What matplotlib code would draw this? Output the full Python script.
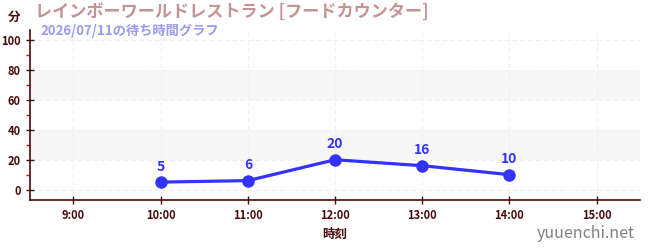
import matplotlib.pyplot as plt
from matplotlib.ticker import MultipleLocator

plt.rcParams['font.family'] = ['Noto Sans CJK JP', 'DejaVu Sans']

hours = [10, 11, 12, 13, 14]
waits = [5, 6, 20, 16, 10]
tick_hours = [9, 10, 11, 12, 13, 14, 15]
tick_labels = ["9:00", "10:00", "11:00", "12:00", "13:00", "14:00", "15:00"]

title = "レインボーワールドレストラン [フードカウンター]"
subtitle = "2026/07/11の待ち時間グラフ"

dark = "#4a0a0a"
blue = "#3333ff"

fig = plt.figure(figsize=(6.5, 2.5), dpi=100)
ax = fig.add_axes([0.046, 0.2, 0.939, 0.68])

ax.set_xlim(8.5, 15.5)
ax.set_ylim(-7, 107)

# alternating bands
for lo, hi in [(20, 40), (60, 80)]:
    ax.axhspan(lo, hi, color="#f7f7f7", zorder=0, lw=0)

ax.set_xticks(tick_hours)
ax.set_xticklabels(tick_labels)
ax.set_yticks(range(0, 101, 20))
ax.yaxis.set_minor_locator(MultipleLocator(10))
ax.grid(True, which="major", color="#f0f0f0", linestyle=(0, (4, 3)), lw=0.8)

for s in ["top", "right"]:
    ax.spines[s].set_visible(False)
for s in ["left", "bottom"]:
    ax.spines[s].set_color(dark)
    ax.spines[s].set_linewidth(1.2)

ax.tick_params(axis="both", which="major", colors=dark, labelsize=8, length=4, width=1)
ax.tick_params(axis="y", which="minor", colors="#dd0000", length=3, width=1)
ax.tick_params(axis="x", which="major", direction="inout", length=6)
ax.tick_params(axis="y", which="major", direction="inout", length=6)
for lbl in ax.get_xticklabels() + ax.get_yticklabels():
    lbl.set_fontweight("bold")
    lbl.set_color(dark)

ax.plot(hours, waits, color=blue, lw=2.3, marker="o", ms=8, zorder=3, clip_on=False)
for h, w in zip(hours, waits):
    ax.annotate(str(w), (h, w), xytext=(0, 6), textcoords="offset points",
                ha="center", va="bottom", color=blue, fontsize=10, fontweight="bold")

ax.set_xlabel("時刻", color=dark, fontsize=9, fontweight="bold", labelpad=4)

fig.text(8 / 650, 1 - 17 / 250, "分", color=dark, fontsize=9, fontweight="bold", va="center")
fig.text(35 / 650, 1 - 13 / 250, title, color="#c49494", fontsize=12.3, fontweight="bold", va="center")
fig.text(40 / 650, 1 - 31 / 250, subtitle, color="#9a9af0", fontsize=9.5, fontweight="bold", va="center")
fig.text(635 / 650, 1 - 233 / 250, "yuuenchi.net", color="#808080", fontsize=11.5, ha="right", va="center")

fig.savefig("out.png", dpi=100)
